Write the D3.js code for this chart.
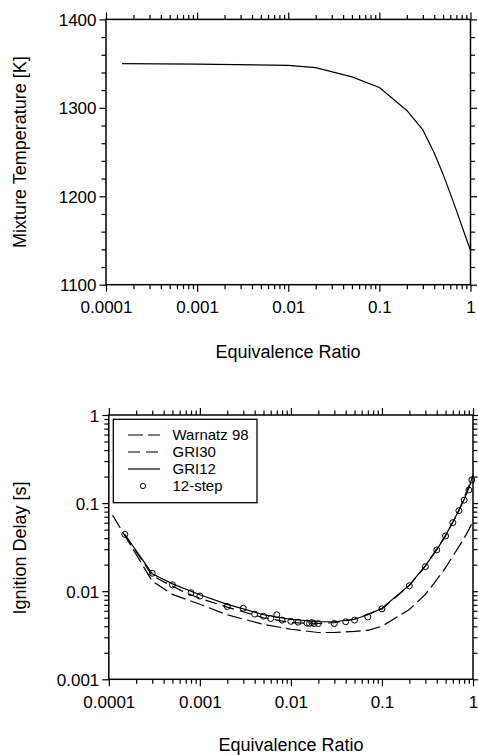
<!DOCTYPE html>
<html>
<head>
<meta charset="utf-8">
<script src="https://d3js.org/d3.v7.min.js"></script>
<style>
    body { margin: 0; background: #fff; }
    svg text { font-family: "Liberation Sans", Arial, Helvetica, sans-serif; fill: #000; }
    .tick line { stroke: #000; stroke-width: 1.2; }
</style>
</head>
<body>
<svg id="chart" width="478" height="755"></svg>
<script>
// equivalence ratio axis (shared)
var phiTicks = [0.0001, 0.001, 0.01, 0.1, 1];
var phiTickLabels = ["0.0001", "0.001", "0.01", "0.1", "1"];

// top panel: mixture temperature
var tempTicks = [1100, 1200, 1300, 1400];
var phiTemp = [0.00015, 0.001, 0.01, 0.02, 0.05, 0.1, 0.2, 0.3, 0.4, 0.5, 0.6, 0.7, 0.8, 0.9, 1.0];
var tempK   = [1350, 1349.5, 1348, 1345.5, 1335, 1323, 1297, 1275, 1249, 1225, 1203, 1184, 1167, 1152, 1139];

// bottom panel: ignition delay
var delayTicks = [0.001, 0.01, 0.1, 1];
var delayTickLabels = ["0.001", "0.01", "0.1", "1"];
var seriesNames = ["Warnatz 98", "GRI30", "GRI12", "12-step"];

var phiWarnatz   = [0.00011, 0.0003, 0.0005, 0.001, 0.002, 0.005, 0.01, 0.02, 0.03, 0.05, 0.07, 0.1, 0.2, 0.3, 0.4, 0.5, 0.6, 0.7, 0.8, 0.9, 1.0];
var delayWarnatz = [0.073, 0.013, 0.0092, 0.0071, 0.0054, 0.0042, 0.0037, 0.0034, 0.0034, 0.0035, 0.0036, 0.0040, 0.0062, 0.0092, 0.0135, 0.0185, 0.025, 0.032, 0.040, 0.050, 0.062];

var phiGri30   = [0.00015, 0.0003, 0.0004, 0.0007, 0.001, 0.002, 0.005, 0.01, 0.02, 0.03, 0.05, 0.1, 0.2, 0.3, 0.5, 0.7, 1.0];
var delayGri30 = [0.044, 0.0150, 0.0128, 0.0096, 0.0083, 0.0066, 0.0050, 0.0044, 0.0043, 0.0044, 0.0048, 0.0063, 0.0116, 0.0193, 0.0425, 0.082, 0.205];

var phiGri12   = [0.00015, 0.0003, 0.0005, 0.001, 0.002, 0.003, 0.005, 0.01, 0.02, 0.03, 0.05, 0.07, 0.1, 0.2, 0.3, 0.4, 0.5, 0.6, 0.7, 0.8, 0.9, 1.0];
var delayGri12 = [0.044, 0.0158, 0.0121, 0.0091, 0.0071, 0.0063, 0.0054, 0.0048, 0.0045, 0.0045, 0.0048, 0.0054, 0.0064, 0.0117, 0.0195, 0.0295, 0.043, 0.061, 0.083, 0.11, 0.147, 0.21];

var phi12step   = [0.00015, 0.0003, 0.0005, 0.0008, 0.001, 0.002, 0.003, 0.004, 0.005, 0.006, 0.007, 0.008, 0.01, 0.012, 0.015, 0.016, 0.017, 0.018, 0.02, 0.03, 0.04, 0.05, 0.07, 0.1, 0.2, 0.3, 0.4, 0.5, 0.6, 0.7, 0.8, 0.9, 0.97];
var delay12step = [0.0442, 0.016, 0.0118, 0.0096, 0.0088, 0.0067, 0.0064, 0.0055, 0.0052, 0.0049, 0.0054, 0.0047, 0.00455, 0.00445, 0.00435, 0.0043, 0.0044, 0.0043, 0.0043, 0.0043, 0.0045, 0.0047, 0.0051, 0.0063, 0.0115, 0.019, 0.0294, 0.0423, 0.060, 0.082, 0.108, 0.141, 0.183];

var svg = d3.select("#chart");
svg.append("rect").attr("width", 478).attr("height", 755).attr("fill", "#fff");

// minor ticks of a log axis: 2..9 of every decade
function logMinors(lo, hi) {
    var out = [];
    for (var d = lo; d < hi * 0.99; d *= 10)
        for (var k = 2; k <= 9; k++) out.push(d * k);
    return out;
}

function drawAxes(g, x, y, yMajor, yMinor, yFmt, xLabelY) {
    var x0 = x.range()[0], x1 = x.range()[1];
    var y0 = y.range()[0], y1 = y.range()[1];
    var xMinor = logMinors(0.0001, 1);

    function put(axis, tr, showLabels) {
        var a = g.append("g").attr("transform", tr).call(axis);
        a.select(".domain").remove();
        if (!showLabels) a.selectAll("text").remove();
        return a;
    }
    // x axis bottom / top
    put(d3.axisBottom(x).tickValues(xMinor).tickSize(4.5), "translate(0," + y0 + ")", false);
    put(d3.axisTop(x).tickValues(xMinor).tickSize(4.5), "translate(0," + y1 + ")", false);
    var xb = put(d3.axisBottom(x).tickValues(phiTicks).tickSize(7).tickPadding(10)
        .tickFormat(function(d, i) { return phiTickLabels[i]; }), "translate(0," + y0 + ")", true);
    xb.selectAll("text").attr("font-size", 17).attr("dy", null).attr("y", xLabelY);
    put(d3.axisTop(x).tickValues(phiTicks).tickSize(7), "translate(0," + y1 + ")", false);

    // y axis left / right
    put(d3.axisLeft(y).tickValues(yMinor).tickSize(4.5), "translate(" + x0 + ",0)", false);
    put(d3.axisRight(y).tickValues(yMinor).tickSize(4.5), "translate(" + x1 + ",0)", false);
    var yl = put(d3.axisLeft(y).tickValues(yMajor).tickSize(6.5).tickPadding(3).tickFormat(yFmt),
        "translate(" + x0 + ",0)", true);
    yl.selectAll("text").attr("font-size", 17).attr("dy", "0.36em");
    put(d3.axisRight(y).tickValues(yMajor).tickSize(6.5), "translate(" + x1 + ",0)", false);

    g.append("rect")
        .attr("x", x0).attr("y", y1)
        .attr("width", x1 - x0).attr("height", y0 - y1)
        .attr("fill", "none").attr("stroke", "#000").attr("stroke-width", 1.5);
}

// ---------- top panel ----------
var xT = d3.scaleLog().domain([0.0001, 1]).range([106, 470.5]);
var yT = d3.scaleLinear().domain([1100, 1400]).range([284.7, 19.4]);
var topG = svg.append("g");

var tempMinor = d3.range(1100, 1401, 20).filter(function(v) { return v % 100 !== 0; });
drawAxes(topG, xT, yT, tempTicks, tempMinor, function(d) { return d; }, 28);

topG.append("path")
    .datum(d3.zip(phiTemp, tempK))
    .attr("fill", "none").attr("stroke", "#000").attr("stroke-width", 1.2)
    .attr("d", d3.line().x(function(d) { return xT(d[0]); }).y(function(d) { return yT(d[1]); }));

topG.append("text").attr("x", 288).attr("y", 358).attr("text-anchor", "middle")
    .attr("font-size", 18).text("Equivalence Ratio");
topG.append("text").attr("transform", "translate(26,152) rotate(-90)").attr("text-anchor", "middle")
    .attr("font-size", 18).text("Mixture Temperature [K]");

// ---------- bottom panel ----------
var xB = d3.scaleLog().domain([0.0001, 1]).range([108.8, 473]);
var yB = d3.scaleLog().domain([0.001, 1]).range([679.3, 415]);
var botG = svg.append("g");

drawAxes(botG, xB, yB, delayTicks, logMinors(0.001, 1), function(d, i) { return delayTickLabels[i]; }, 29);

var line = d3.line().x(function(d) { return xB(d[0]); }).y(function(d) { return yB(d[1]); });
var curves = [
    { data: d3.zip(phiWarnatz, delayWarnatz), dash: "15,5" },
    { data: d3.zip(phiGri30, delayGri30), dash: "12,6" },
    { data: d3.zip(phiGri12, delayGri12), dash: null }
];
curves.forEach(function(c) {
    botG.append("path").datum(c.data)
        .attr("fill", "none").attr("stroke", "#000").attr("stroke-width", 1.2)
        .attr("stroke-dasharray", c.dash)
        .attr("d", line);
});

botG.selectAll("circle.pt")
    .data(d3.zip(phi12step, delay12step))
    .enter().append("circle")
    .attr("class", "pt")
    .attr("cx", function(d) { return xB(d[0]); })
    .attr("cy", function(d) { return yB(d[1]); })
    .attr("r", 3)
    .attr("fill", "none").attr("stroke", "#000").attr("stroke-width", 1);

// legend
var leg = botG.append("g");
leg.append("rect").attr("x", 113.3).attr("y", 419.3).attr("width", 143.7).attr("height", 83.4)
    .attr("fill", "#fff").attr("stroke", "#000").attr("stroke-width", 1.3);
var legDash = ["15,5", "12,6", null];
seriesNames.forEach(function(name, i) {
    var cy = 435 + i * 17;
    if (i < 3) {
        leg.append("line").attr("x1", 128).attr("x2", 160).attr("y1", cy).attr("y2", cy)
            .attr("stroke", "#000").attr("stroke-width", 1.2).attr("stroke-dasharray", legDash[i]);
    } else {
        leg.append("circle").attr("cx", 143).attr("cy", cy).attr("r", 2.6)
            .attr("fill", "none").attr("stroke", "#000").attr("stroke-width", 1);
    }
    leg.append("text").attr("x", 172.5).attr("y", cy).attr("dy", "0.36em")
        .attr("font-size", 15).text(name);
});

botG.append("text").attr("x", 291).attr("y", 751).attr("text-anchor", "middle")
    .attr("font-size", 18).text("Equivalence Ratio");
botG.append("text").attr("transform", "translate(26,548) rotate(-90)").attr("text-anchor", "middle")
    .attr("font-size", 18).text("Ignition Delay [s]");
</script>
</body>
</html>
